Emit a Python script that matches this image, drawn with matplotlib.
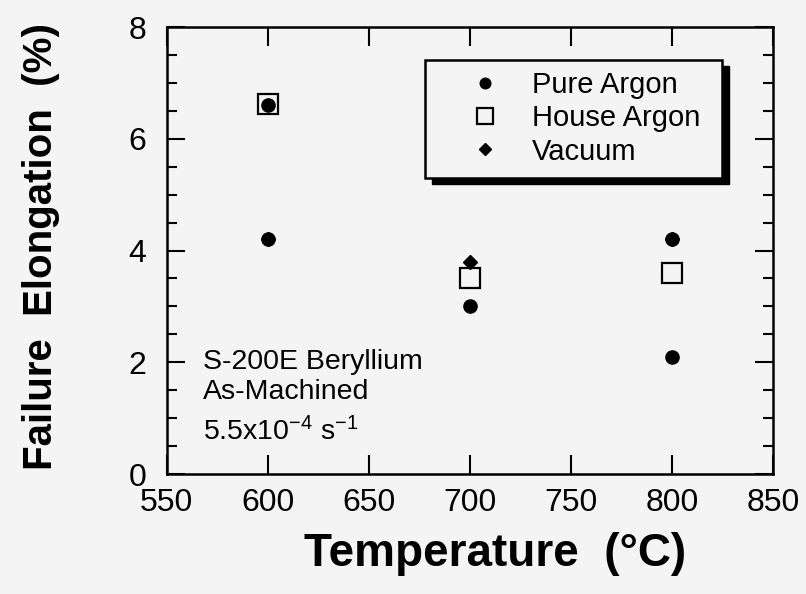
import matplotlib.pyplot as plt
from matplotlib.patches import Rectangle
from matplotlib.ticker import MultipleLocator

plt.rcParams['font.family'] = ['Liberation Sans', 'DejaVu Sans']
plt.rcParams['mathtext.default'] = 'regular'

# failure elongation (%) vs test temperature (C)
pure_t = [600, 600, 700, 800, 800]
pure_e = [6.6, 4.2, 3.0, 2.1, 4.2]
house_t = [600, 700, 800]
house_e = [6.63, 3.5, 3.6]
vac_t = [600, 700, 800]
vac_e = [4.2, 3.8, 4.2]

bg = '#f4f4f4'
fig = plt.figure(figsize=(8.06, 5.94), dpi=100, facecolor=bg)
ax = fig.add_axes([0.207, 0.202, 0.752, 0.7525], facecolor=bg)

ax.plot(vac_t, vac_e, 'D', color='k', ms=7.5, label='Vacuum', zorder=3)
ax.plot(pure_t, pure_e, 'o', color='k', ms=9.5, label='Pure Argon', zorder=4)
ax.plot(house_t, house_e, 's', mfc='none', mec='k', mew=1.6, ms=15,
        label='House Argon', zorder=2)

ax.set_xlim(550, 850)
ax.set_ylim(0, 8)
ax.xaxis.set_major_locator(MultipleLocator(50))
ax.yaxis.set_major_locator(MultipleLocator(2))
ax.yaxis.set_minor_locator(MultipleLocator(0.5))
ax.tick_params(which='both', direction='in', top=True, right=True,
               width=1.5, labelsize=23)
ax.tick_params(axis='x', which='major', length=14, pad=10)
ax.tick_params(axis='y', which='major', length=13, pad=15)
ax.tick_params(axis='y', which='minor', length=7)
for s in ax.spines.values():
    s.set_linewidth(1.8)

ax.set_xlabel('Temperature  (\u00b0C)', fontsize=33, fontweight='bold')
ax.set_ylabel('Failure  Elongation  (%)', fontsize=29, fontweight='bold')
ax.xaxis.set_label_coords(0.541, -0.13)
ax.yaxis.set_label_coords(-0.177, 0.51)

# legend box with a solid drop shadow
x0, y0, w, h = 0.426, 0.662, 0.49, 0.264
ax.add_patch(Rectangle((x0 + 0.011, y0 - 0.014), w, h, transform=ax.transAxes,
                       facecolor='k', edgecolor='k', zorder=5))
ax.add_patch(Rectangle((x0, y0), w, h, transform=ax.transAxes,
                       facecolor=bg, edgecolor='k', lw=1.8, zorder=6))
hs, ls = ax.get_legend_handles_labels()
order = [1, 2, 0]
leg = ax.legend([hs[i] for i in order], [ls[i] for i in order],
                loc='upper left', bbox_to_anchor=(x0 + 0.027, y0 + h + 0.034),
                frameon=False, fontsize=21, handlelength=1.2,
                handletextpad=1.0, labelspacing=0.18, markerscale=0.8)
leg.set_zorder(7)

ax.text(0.06, 0.25, 'S-200E Beryllium', transform=ax.transAxes,
        fontsize=20.5, va='center')
ax.text(0.06, 0.183, 'As-Machined', transform=ax.transAxes,
        fontsize=20.5, va='center')
ax.text(0.06, 0.095, '5.5x10$^{-4}$ s$^{-1}$', transform=ax.transAxes,
        fontsize=20.5, va='center')

fig.savefig('out.png', dpi=100, facecolor=bg)
